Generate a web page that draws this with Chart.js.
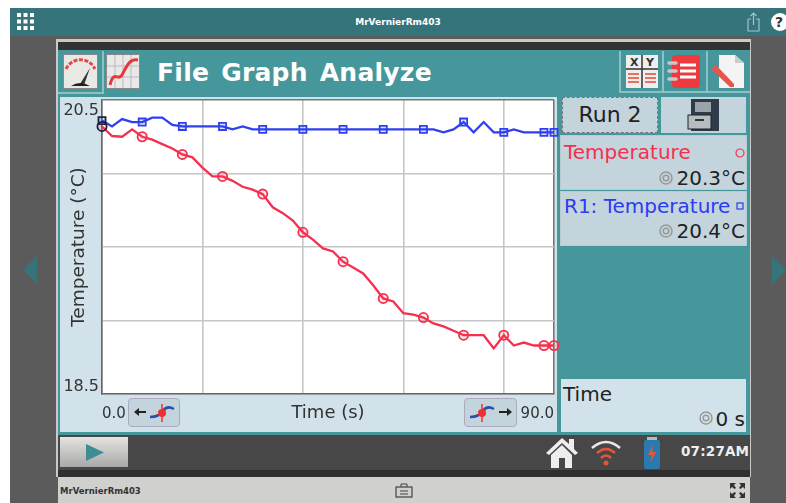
<!DOCTYPE html>
<html><head><meta charset="utf-8">
<style>
html,body{margin:0;padding:0;width:786px;height:503px;overflow:hidden;background:#fff;font-family:"DejaVu Sans",sans-serif}
#stage{position:absolute;left:0;top:0;width:786px;height:503px;filter:blur(.6px)}
.b{position:absolute}
.t{position:absolute;white-space:nowrap;line-height:1}
canvas{position:absolute;left:0;top:0}
svg{position:absolute;overflow:visible}
</style></head><body>
<div id="stage">
<div class="b" style="left:10px;top:8px;width:776px;height:28px;background:#35747a"></div>
<div class="b" style="left:10px;top:36px;width:776px;height:467px;background:#5b5b5b"></div>
<svg style="left:17px;top:12px" width="18" height="20"><g fill="#fff"><rect x="0" y="1" width="4" height="4"/><rect x="6.500" y="1" width="4" height="4"/><rect x="13" y="1" width="4" height="4"/><rect x="0" y="7.500" width="4" height="4"/><rect x="6.500" y="7.500" width="4" height="4"/><rect x="13" y="7.500" width="4" height="4"/><rect x="0" y="14" width="4" height="4"/><rect x="6.500" y="14" width="4" height="4"/><rect x="13" y="14" width="4" height="4"/></g></svg>
<div class="t" style="left:298px;width:200px;text-align:center;top:18px;font-size:9px;font-weight:bold;color:#fff">MrVernierRm403</div>
<svg style="left:746px;top:11px" width="16" height="22"><path d="M2 8H5M10 8H13V20H2V8M7.500 14V2M4.500 5L7.500 2L10.500 5" fill="none" stroke="#9fc4c6" stroke-width="1.200"/></svg>
<div class="b" style="left:771px;top:13px;width:18px;height:18px;border-radius:9px;background:#fff"></div>
<div class="t" style="left:775px;top:15px;font-size:14px;font-weight:bold;color:#333">?</div>
<svg style="left:22px;top:255px" width="16" height="30"><path d="M15 1V29L1 15Z" fill="#35747a"/></svg>
<svg style="left:771px;top:255px" width="16" height="30"><path d="M1 1V29L15 15Z" fill="#35747a"/></svg>

<div class="b" style="left:56px;top:39px;width:695px;height:438px;background:#c9c9c7"></div>
<div class="b" style="left:58px;top:42px;width:692px;height:8px;background:#333"></div>
<div class="b" style="left:58px;top:50px;width:692px;height:385px;background:#46979b"></div>
<div class="b" style="left:60px;top:97px;width:497px;height:335px;background:#d2e2ea"></div>
<div class="b" style="left:102px;top:100px;width:452px;height:294px;background:#fff"></div>

<div class="b" style="left:58px;top:92px;width:44px;height:2px;background:#8cc0c2"></div>
<div class="b" style="left:102px;top:51px;width:2px;height:43px;background:#8cc0c2"></div>
<div class="b" style="left:64px;top:55px;width:33px;height:33px;background:#e8e8e4;outline:1.500px solid #888"></div>
<svg style="left:64px;top:55px" width="33" height="33"><path d="M2 14A16 16 0 0 1 31 14" fill="none" stroke="#e5484d" stroke-width="3" stroke-dasharray="4 1.500"/><path d="M16 29L26 13L20 30Z" fill="#333"/><path d="M7 31Q16 25 26 31Z" fill="#222"/></svg>
<div class="b" style="left:107px;top:55px;width:32px;height:33px;background:#e9e9e9;outline:1.500px solid #888"></div>
<svg style="left:107px;top:55px" width="32" height="33"><path d="M0 11H32M0 22H32M8 0V33M16 0V33M24 0V33" stroke="#bbb"/><path d="M3 30C7 14 11 27 15 20S22 3 31 5" fill="none" stroke="#e5383d" stroke-width="3"/></svg>
<div class="t" style="left:157px;top:60px;font-size:25px;font-weight:bold;color:#fff;letter-spacing:.25px;word-spacing:3px">File Graph Analyze</div>

<div class="b" style="left:619px;top:51px;width:2px;height:41px;background:#8cc0c2"></div>
<div class="b" style="left:619px;top:91px;width:131px;height:2px;background:#8cc0c2"></div>
<div class="b" style="left:662px;top:51px;width:2px;height:41px;background:#8cc0c2"></div>
<div class="b" style="left:706px;top:51px;width:2px;height:41px;background:#8cc0c2"></div>
<div class="b" style="left:626px;top:55px;width:32px;height:33px;background:#eee"></div>
<svg style="left:626px;top:55px" width="32" height="33"><path d="M0 14H32M16 0V33" stroke="#333" stroke-width="1.500"/><path d="M2 19H13M2 23H13M2 27H13M19 19H30M19 23H30M19 27H30" stroke="#e8705f" stroke-width="2"/></svg>
<div class="t" style="left:630px;top:57px;font-size:11px;font-weight:bold;color:#333">X</div>
<div class="t" style="left:646px;top:57px;font-size:11px;font-weight:bold;color:#333">Y</div>
<svg style="left:668px;top:54px" width="32" height="34"><rect x="4" y="1" width="28" height="33" rx="4" fill="#ee3a3e"/><path d="M12 11H28M12 17H28M12 23H28" stroke="#fff" stroke-width="3"/><path d="M1 9H8M1 17H8M1 25H8" stroke="#c8c8c8" stroke-width="3.500" stroke-linecap="round"/></svg>
<svg style="left:710px;top:54px" width="34" height="34"><path d="M9 1H25L34 9V34H9Z" fill="#f4f4f4"/><path d="M25 1V9H34" fill="#ccc"/><path d="M1 15L6 11L24 30L24 33L20 33Z" fill="#e8554e"/></svg>

<div class="b" style="left:562px;top:97px;width:96px;height:36px;background:#c4d4dc;box-sizing:border-box;border:1.500px dashed #777"></div>
<div class="t" style="left:562px;width:96px;text-align:center;top:104px;font-size:22px;color:#222">Run 2</div>
<div class="b" style="left:661px;top:97px;width:85px;height:36px;background:#c4d4dc"></div>
<svg style="left:688px;top:98px" width="32" height="34"><rect x="3" y="1" width="28" height="32" fill="#2f3a4a"/><rect x="7" y="4" width="16" height="10" fill="#9aa3aa"/><rect x="0" y="17" width="23" height="14" fill="#b5bcc2" stroke="#222"/><path d="M7 22H16" stroke="#333" stroke-width="2"/></svg>

<div class="b" style="left:561px;top:136px;width:185px;height:53px;background:#c4d4dc;outline:1px solid #b8cdd2"></div>
<div class="t" style="left:564px;top:142px;font-size:20px;color:#f5304f">Temperature</div>
<svg style="left:735px;top:148px" width="10" height="10"><circle cx="5" cy="5" r="4" fill="none" stroke="#f5304f" stroke-width="1.200"/></svg>
<svg style="left:659px;top:171px" width="14" height="14"><circle cx="7" cy="7" r="6" fill="none" stroke="#999" stroke-width="1.500"/><circle cx="7" cy="7" r="2.800" fill="none" stroke="#999" stroke-width="1.500"/></svg>
<div class="t" style="right:41px;top:168px;font-size:20px;color:#222">20.3°C</div>

<div class="b" style="left:561px;top:192px;width:185px;height:53px;background:#c4d4dc;outline:1px solid #b8cdd2"></div>
<div class="t" style="left:564px;top:196px;font-size:20px;color:#2a3cf0">R1: Temperature</div>
<svg style="left:736px;top:202px" width="9" height="9"><rect x="1" y="1" width="6" height="6" fill="none" stroke="#2a3cf0" stroke-width="1.200"/></svg>
<svg style="left:659px;top:224px" width="14" height="14"><circle cx="7" cy="7" r="6" fill="none" stroke="#999" stroke-width="1.500"/><circle cx="7" cy="7" r="2.800" fill="none" stroke="#999" stroke-width="1.500"/></svg>
<div class="t" style="right:41px;top:221px;font-size:20px;color:#222">20.4°C</div>

<div class="b" style="left:561px;top:379px;width:185px;height:53px;background:#d2e2ea"></div>
<div class="t" style="left:563px;top:384px;font-size:20px;color:#222">Time</div>
<svg style="left:699px;top:411px" width="14" height="14"><circle cx="7" cy="7" r="6" fill="none" stroke="#999" stroke-width="1.500"/><circle cx="7" cy="7" r="2.800" fill="none" stroke="#999" stroke-width="1.500"/></svg>
<div class="t" style="right:41px;top:409px;font-size:20px;color:#222">0 s</div>

<div class="b" style="left:129px;top:399px;width:50px;height:27px;background:#c4d4dc;border-radius:3px;outline:1px solid #aab"></div>
<svg style="left:133px;top:402px" width="44" height="22"><path d="M2 10H13" stroke="#222" stroke-width="2"/><path d="M1 10L6 6V14Z" fill="#222"/><path d="M17 15Q26 15 30 9T41 7" fill="none" stroke="#2a4fb0" stroke-width="2.500"/><circle cx="29" cy="11" r="4" fill="#ee3030"/><path d="M29 2V20" stroke="#ee3030" stroke-width="1.500"/></svg>
<div class="b" style="left:465px;top:399px;width:51px;height:27px;background:#c4d4dc;border-radius:3px;outline:1px solid #aab"></div>
<svg style="left:469px;top:402px" width="44" height="22"><path d="M1 15Q10 15 14 9T25 7" fill="none" stroke="#2a4fb0" stroke-width="2.500"/><circle cx="13" cy="11" r="4" fill="#ee3030"/><path d="M13 2V20" stroke="#ee3030" stroke-width="1.500"/><path d="M30 10H42" stroke="#222" stroke-width="2"/><path d="M43 10L38 6V14Z" fill="#222"/></svg>

<div class="b" style="left:58px;top:435px;width:692px;height:37px;background:#474747"></div>
<div class="b" style="left:58px;top:470px;width:692px;height:7px;background:#2f2f2f"></div>
<div class="b" style="left:60px;top:437px;width:68px;height:30px;background:linear-gradient(#e4e4e2,#a8a8a6)"></div>
<svg style="left:85px;top:443px" width="20" height="19"><path d="M1 1L19 9.500L1 18Z" fill="#3d8e92"/></svg>
<svg style="left:545px;top:436px" width="34" height="34"><path d="M1 17L17 2L24 8V3H29V13L33 17L30 19L17 7L4 19Z" fill="#eee"/><path d="M6 19L17 9L27 19V32H20V22H14V32H6Z" fill="#eee"/></svg>
<svg style="left:590px;top:439px" width="32" height="28"><path d="M2 9Q16 -3 30 9" fill="none" stroke="#e8e8e8" stroke-width="2.500"/><path d="M7 14Q16 6 25 14" fill="none" stroke="#e2573c" stroke-width="2.500"/><path d="M11 19Q16 14 21 19" fill="none" stroke="#e2573c" stroke-width="2.500"/><circle cx="16" cy="24" r="2.500" fill="#e2573c"/></svg>
<svg style="left:642px;top:436px" width="20" height="34"><rect x="5" y="1" width="10" height="3" fill="#bbb"/><rect x="2" y="4" width="16" height="29" rx="2" fill="#2a7ab0"/><path d="M11 9L6 19H10L8 27L14 16H10Z" fill="#e8553a"/></svg>
<div class="t" style="left:681px;top:445px;font-size:13.500px;font-weight:bold;color:#eee;letter-spacing:.2px">07:27AM</div>

<div class="b" style="left:58px;top:477px;width:692px;height:26px;background:#d0d0ce"></div>
<div class="t" style="left:60px;top:487px;font-size:8.500px;font-weight:bold;color:#333">MrVernierRm403</div>
<svg style="left:395px;top:483px" width="18" height="15"><rect x="1" y="4" width="16" height="10" fill="none" stroke="#444" stroke-width="1.200"/><path d="M6 4V1H12V4M5 8H13M5 11H13" stroke="#444" fill="none"/></svg>
<svg style="left:729px;top:482px" width="17" height="17"><g fill="#333"><path d="M1 1H7L5 3L7 6L5.500 7L3 5L1 7ZM16 1H10L12 3L10 6L11.500 7L14 5L16 7ZM1 16H7L5 14L7 11L5.500 10L3 12L1 10ZM16 16H10L12 14L10 11L11.500 10L14 12L16 10Z"/></g></svg>

<canvas id="c" width="786" height="503"></canvas>
</div>
<script src="https://cdn.jsdelivr.net/npm/chart.js@4/dist/chart.umd.min.js"></script>
<script>
const times = [0,2,4,6,8,10,12,14,16,18,20,22,24,26,28,30,32,34,36,38,40,42,44,46,48,50,52,54,56,58,60,62,64,66,68,70,72,74,76,78,80,82,84,86,88,90];
const temperature = [20.32,20.255,20.25,20.30,20.25,20.23,20.20,20.17,20.13,20.11,20.04,19.98,19.98,19.95,19.91,19.89,19.86,19.77,19.73,19.68,19.60,19.55,19.49,19.47,19.40,19.36,19.32,19.24,19.15,19.13,19.05,19.04,19.02,18.98,18.96,18.93,18.90,18.90,18.90,18.81,18.90,18.83,18.85,18.83,18.83,18.83];
const r1Temperature = [20.36,20.32,20.37,20.35,20.35,20.38,20.38,20.33,20.32,20.32,20.32,20.32,20.32,20.30,20.32,20.30,20.30,20.30,20.30,20.30,20.30,20.30,20.30,20.30,20.30,20.30,20.30,20.30,20.30,20.30,20.30,20.30,20.30,20.30,20.28,20.30,20.35,20.28,20.35,20.28,20.28,20.30,20.28,20.28,20.28,20.28];
const markerTimes = [0,8,16,24,32,40,48,56,64,72,80,88,90];
const xTickLabels = {0:'0.0',90:'90.0'};
const yTickLabels = {20.5:['','20.5'],18.5:['18.5','']};
const RED='#f5304f', BLUE='#2f40f0', TXT='#333';

function ds(label,values,color,tint,style,r){
  return {label,data:times.map((t,i)=>({x:t,y:values[i]})),borderColor:color,borderWidth:2.3,tension:0,
    backgroundColor:tint,pointStyle:style,pointBorderWidth:1.8,
    pointBackgroundColor:tint,
    pointBorderColor:c=>c.parsed&&c.parsed.x===0?'#1a2340':color,
    pointRadius:c=>markerTimes.includes(times[c.dataIndex])?r:0,clip:false};
}
new Chart(document.getElementById('c'),{
  type:'line',
  data:{datasets:[ds('Temperature',temperature,RED,'rgba(245,48,79,.12)','circle',4.6),ds('R1: Temperature',r1Temperature,BLUE,'rgba(47,64,240,.15)','rect',5)]},
  options:{
    responsive:false,animation:false,events:[],
    layout:{padding:{left:60,top:100,right:232,bottom:71}},
    plugins:{legend:{display:false},tooltip:{enabled:false}},
    scales:{
      x:{type:'linear',min:0,max:90,
        afterFit(s){s.height=38},
        ticks:{stepSize:20,autoSkip:false,maxRotation:0,align:'inner',padding:11,color:TXT,
          font:{family:'"DejaVu Sans"',size:15},callback:v=>xTickLabels[v]||''},
        grid:{drawTicks:false,lineWidth:1.6,color:c=>c.tick&&c.tick.value===90?'#777':'#c6c6c6'},
        border:{color:'#666',width:1.6},
        title:{display:true,text:'Time (s)',color:TXT,font:{family:'"DejaVu Sans"',size:18},padding:{top:0,bottom:8}}
      },
      y:{type:'linear',min:18.5,max:20.5,
        afterFit(s){s.width=42},
        ticks:{stepSize:.5,autoSkip:false,padding:3,labelOffset:2,color:TXT,
          font:{family:'"DejaVu Sans"',size:16,lineHeight:1.125},callback:v=>yTickLabels[v]||''},
        grid:{drawTicks:false,lineWidth:1.6,color:c=>c.tick&&c.tick.value===20.5?'#777':'#c6c6c6'},
        border:{color:'#666',width:1.6},
        title:{display:true,text:'Temperature (°C)',color:TXT,font:{family:'"DejaVu Sans"',size:18.500},padding:{top:8,bottom:0}}
      }
    }
  }
});
</script>
</body></html>
